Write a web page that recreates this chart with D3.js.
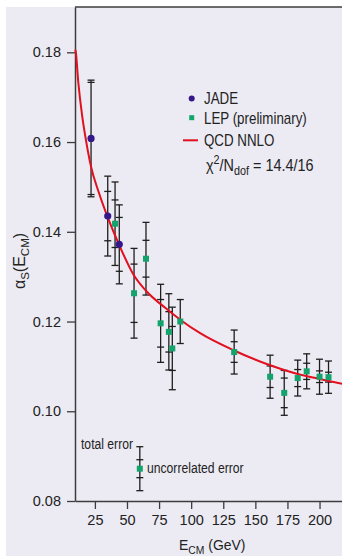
<!DOCTYPE html>
<html>
<head>
<meta charset="utf-8">
<script src="https://cdn.jsdelivr.net/npm/d3@7"></script>
<style>
  body { margin: 0; background: #fff; }
  svg { display: block; }
  text { font-family: "Liberation Sans", Arial, sans-serif; fill: #222; }
  .tick text { font-size: 14.5px; }
</style>
</head>
<body>
<svg id="chart" width="342" height="557"></svg>
<script>
// JADE points
var jadeE = [22, 35, 44];
var jadeAlpha = [0.1608, 0.1435, 0.1372];
var jadeUnc = [0.0125, 0.0055, 0.0060];
var jadeTot = [0.0130, 0.0089, 0.0088];

// LEP (preliminary)
var lepE = [40.7, 55.5, 64.8, 76.2, 82.6, 85.3, 91.5, 133.5, 161.5, 172.5, 183, 190, 200, 207];
var lepAlpha = [0.1418, 0.1263, 0.1340, 0.1196, 0.1177, 0.1140, 0.1200, 0.1132, 0.1077, 0.1041, 0.1074, 0.1089, 0.1077, 0.1076];
var lepUnc = [0.0053, 0.0065, 0.0041, 0.0053, 0.0045, 0.0049, 0, 0.0023, 0.0024, 0.0033, 0.0019, 0.0018, 0.0013, 0.0011];
var lepTot = [0.0093, 0.0100, 0.0081, 0.0087, 0.0085, 0.0092, 0.0049, 0.0049, 0.0048, 0.0050, 0.0040, 0.0039, 0.0039, 0.0036];

// QCD NNLO curve
var qcdE = [9.5, 10, 12, 15, 18, 22, 28, 35, 44, 55, 65, 80, 92, 107, 133, 161, 183, 200, 217.5];
var qcdAlpha = [0.1806, 0.1803, 0.1735, 0.1660, 0.1605, 0.1545, 0.1488, 0.1432, 0.1370, 0.1305, 0.1268, 0.1230, 0.1203, 0.1174, 0.1136, 0.1103, 0.1083, 0.1072, 0.1061];

// error legend sample
var sampleE = [60];
var sampleAlpha = [0.0872];
var sampleUnc = [0.0020];
var sampleTot = [0.0049];

var xTicks = [25, 50, 75, 100, 125, 150, 175, 200];
var yTicks = [0.08, 0.10, 0.12, 0.14, 0.16, 0.18];

var svg = d3.select('#chart');
var x = d3.scaleLinear().domain([9.5, 217.5]).range([75, 342]);
var y = d3.scaleLinear().domain([0.08, 0.1901]).range([501, 7]);

var axisColor = '#3c3c3c', barColor = '#1e1e1e';
var jadeColor = '#34188a', lepColor = '#14a36c', qcdColor = '#e2101f';

svg.append('rect').attr('x', 6).attr('y', 7).attr('width', 336).attr('height', 549)
  .style('fill', '#ecebf3');

// axes
var yAxis = svg.append('g').attr('transform', 'translate(75,0)')
  .call(d3.axisLeft(y).tickValues(yTicks).tickFormat(d3.format('.2f')).tickSize(8).tickSizeOuter(0).tickPadding(6));
var xAxis = svg.append('g').attr('transform', 'translate(0,501)')
  .call(d3.axisBottom(x).tickValues(xTicks).tickSize(8).tickSizeOuter(0).tickPadding(6));
[xAxis, yAxis].forEach(function(a) {
  a.select('.domain').style('stroke', axisColor).style('stroke-width', 1.5);
  a.selectAll('.tick line').style('stroke', axisColor).style('stroke-width', 1.3);
  a.selectAll('.tick text').style('fill', '#222');
});
svg.append('line').attr('x1', 75).attr('x2', 342).attr('y1', 7).attr('y2', 7)
  .style('stroke', axisColor).style('stroke-width', 1.5);

// error bars: outer = total, inner = uncorrelated
var drawErrors = function(E, A, unc, tot) {
  var rows = E.map(function(e, i) { return {e: e, a: A[i], u: unc[i], t: tot[i]}; });
  var g = svg.append('g').style('stroke', barColor).style('stroke-width', 1.3);
  rows.forEach(function(d) {
    var cx = x(d.e);
    g.append('line').attr('x1', cx).attr('x2', cx).attr('y1', y(d.a - d.t)).attr('y2', y(d.a + d.t));
    var caps = [d.a - d.t, d.a + d.t];
    if (d.u > 0) caps.push(d.a - d.u, d.a + d.u);
    caps.forEach(function(v) {
      g.append('line').attr('x1', cx - 3.5).attr('x2', cx + 3.5).attr('y1', y(v)).attr('y2', y(v));
    });
  });
};
drawErrors(jadeE, jadeAlpha, jadeUnc, jadeTot);
drawErrors(lepE, lepAlpha, lepUnc, lepTot);
drawErrors(sampleE, sampleAlpha, sampleUnc, sampleTot);

// curve
var line = d3.line().curve(d3.curveMonotoneX)
  .x(function(d) { return x(d[0]); }).y(function(d) { return y(d[1]); });
svg.append('path').datum(qcdE.map(function(e, i) { return [e, qcdAlpha[i]]; }))
  .attr('d', line).style('fill', 'none').style('stroke', qcdColor).style('stroke-width', 2);

// markers
svg.selectAll('circle.jade').data(jadeE).enter().append('circle').classed('jade', true)
  .attr('cx', function(d) { return x(d); }).attr('cy', function(d, i) { return y(jadeAlpha[i]); })
  .attr('r', 3.6).style('fill', jadeColor);
var sq = 6;
svg.selectAll('rect.lep').data(lepE.concat(sampleE)).enter().append('rect').classed('lep', true)
  .attr('x', function(d) { return x(d) - sq / 2; })
  .attr('y', function(d, i) { return y(lepAlpha.concat(sampleAlpha)[i]) - sq / 2; })
  .attr('width', sq).attr('height', sq).style('fill', lepColor);

// condensed text (the original face is narrow)
var narrow = function(px, py, size, anchor, sx) {
  return svg.append('text').attr('transform', 'translate(' + px + ',' + py + ') scale(' + (sx || 0.85) + ',1)')
    .attr('text-anchor', anchor || 'start').style('font-size', size + 'px');
};

// legend
svg.append('circle').attr('cx', 191.7).attr('cy', 98.5).attr('r', 3).style('fill', jadeColor);
svg.append('rect').attr('x', 189.2).attr('y', 115.2).attr('width', 5).attr('height', 5).style('fill', lepColor);
svg.append('line').attr('x1', 183).attr('x2', 198).attr('y1', 140.3).attr('y2', 140.3)
  .style('stroke', qcdColor).style('stroke-width', 2);
narrow(204, 104, 15.7).text('JADE');
narrow(204, 124, 15.7).text('LEP (preliminary)');
narrow(204, 146, 15.7).text('QCD NNLO');
var chi = narrow(206, 171, 16, 'start', 0.9);
chi.append('tspan').text('\u03c7');
chi.append('tspan').attr('dy', -7).style('font-size', '12px').text('2');
chi.append('tspan').attr('dy', 7).text('/N');
chi.append('tspan').attr('dy', 4).style('font-size', '12px').text('dof');
chi.append('tspan').attr('dy', -4).text(' = 14.4/16');

narrow(133, 449, 14.3, 'end').text('total error');
narrow(147, 473, 14.3).text('uncorrelated error');

// axis titles
var xt = narrow(179, 550, 15.5, 'start', 0.9);
xt.append('tspan').text('E');
xt.append('tspan').attr('dy', 4).style('font-size', '11.5px').text('CM');
xt.append('tspan').attr('dy', -4).text(' (GeV)');

var yt = svg.append('text').attr('transform', 'translate(25,261) rotate(-90)')
  .attr('text-anchor', 'middle').style('font-size', '16px');
yt.append('tspan').text('\u03b1');
yt.append('tspan').attr('dy', 4).style('font-size', '11.5px').text('S');
yt.append('tspan').attr('dy', -4).text('(E');
yt.append('tspan').attr('dy', 4).style('font-size', '11.5px').text('CM');
yt.append('tspan').attr('dy', -4).text(')');
</script>
</body>
</html>
